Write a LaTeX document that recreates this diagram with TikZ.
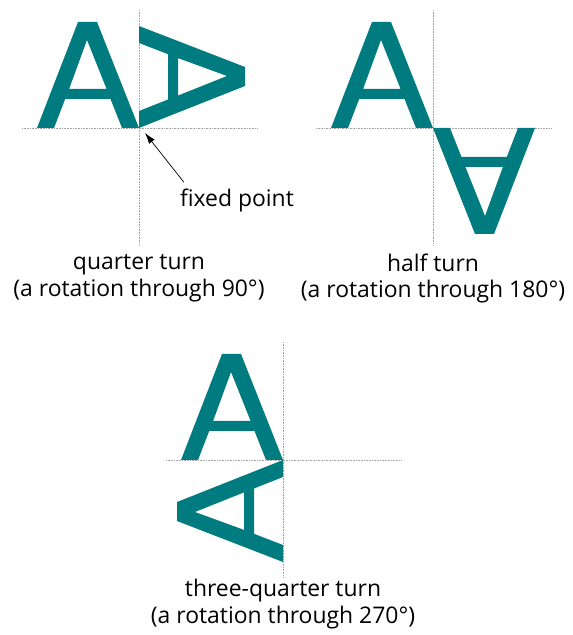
\documentclass[tikz,border=0pt]{standalone}
\usepackage{fontspec}
\setmainfont{Open Sans}
\usetikzlibrary{arrows.meta,positioning}
\definecolor{turnteal}{RGB}{0,123,128}

\begin{document}
\begin{tikzpicture}[x=1bp,y=1bp,
  axis/.style={draw=gray!70,densely dotted,line width=0.6bp},
  letter/.style={fill=turnteal,even odd rule},
  caption/.style={align=center,font=\fontsize{23}{27}\selectfont,inner sep=0pt},
  pointer/.style={-{Latex[length=11bp,width=7bp]},line width=0.7bp}]
\useasboundingbox (0,0) rectangle (573,635);
% dotted axes through the three fixed points
\foreach \px/\py in {139/507,433/507,283/175}{
  \draw[axis] (\px-117,\py) -- (\px+118,\py);
  \draw[axis] (\px,\py+118) -- (\px,\py-117);
}
% the letter A, before and after each turn
\foreach \px/\py/\ang in {139/507/0,139/507/-90,433/507/0,433/507/180,283/175/0,283/175/90}{
  \fill[letter,shift={(\px,\py)},rotate=\ang]
    (-102,0) -- (-61,106) -- (-42,106) -- (0,0) -- (-17,0) -- (-28.5,29) -- (-73.8,29) -- (-85,0) -- cycle
    (-69.9,39) -- (-52,88) -- (-32.4,39) -- cycle;
}
\node[caption] (fixlbl) at (237,435) {fixed point};
\coordinate (tip) at (145,502);
\draw[pointer] ([shift={(4,6)}]fixlbl.north west) -- (tip);
\node[caption] (quarter) at (139,356.5) {quarter turn\\(a rotation through 90°)};
\node[caption] (half) at (433,356.5) {half turn\\(a rotation through 180°)};
\node[caption] (threeq) at (283,31) {three-quarter turn\\(a rotation through 270°)};
\end{tikzpicture}
\end{document}
